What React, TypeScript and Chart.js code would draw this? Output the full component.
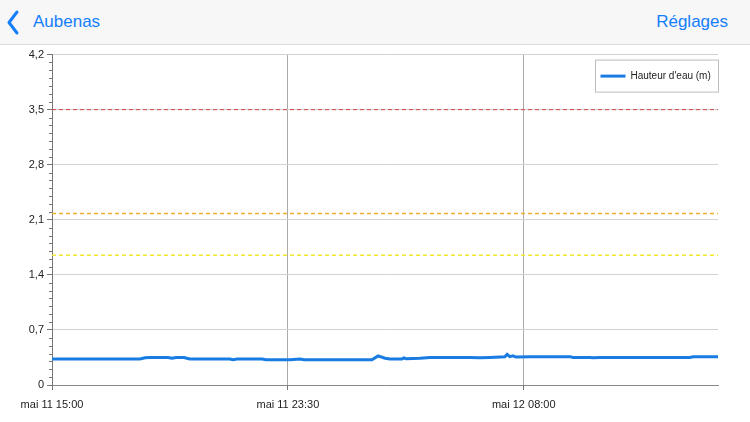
import React, { useEffect, useRef } from "react";
import { Chart, registerables } from "chart.js";

Chart.register(...registerables);

// Hours since "mai 11 15:00"
const hours = [0, 3.17, 3.35, 3.53, 4.18, 4.32, 4.47, 4.76, 4.86, 4.97, 6.41, 6.52, 6.67, 7.57, 7.71, 8.58, 8.94, 9.08, 11.53, 11.75, 12.0, 12.18, 12.61, 12.68, 12.76, 13.26, 13.62, 15.06, 15.42, 15.78, 16.32, 16.4, 16.5, 16.61, 16.72, 17.23, 18.67, 18.77, 19.39, 19.5, 19.75, 22.99, 23.1, 24];
const levels = [0.33, 0.33, 0.345, 0.35, 0.35, 0.34, 0.35, 0.35, 0.34, 0.33, 0.33, 0.32, 0.33, 0.33, 0.32, 0.32, 0.33, 0.32, 0.32, 0.37, 0.34, 0.33, 0.33, 0.345, 0.335, 0.34, 0.35, 0.35, 0.345, 0.35, 0.36, 0.39, 0.36, 0.37, 0.355, 0.36, 0.36, 0.35, 0.35, 0.345, 0.35, 0.35, 0.36, 0.36];

const xTickValues = [0, 8.5, 17];
const xTickLabels = ["mai 11 15:00", "mai 11 23:30", "mai 12 08:00"];
const yTickValues = [0, 0.7, 1.4, 2.1, 2.8, 3.5, 4.2];
const xRange = [0, 24];

const thresholdRed = 3.5;
const thresholdOrange = 2.18;
const thresholdYellow = 1.65;

const seriesLabel = "Hauteur d'eau (m)";
const BLUE = "rgb(24,124,226)";
const FONT = "'Liberation Sans', Arial, sans-serif";

const minorTicksPlugin = {
  id: "minorTicks",
  afterDraw(chart: any) {
    const y = chart.scales.y;
    const ctx = chart.ctx;
    const x0 = chart.chartArea.left;
    ctx.save();
    ctx.strokeStyle = "#777";
    ctx.lineWidth = 1;
    for (let i = 0; i <= 42; i++) {
      const v = i / 10;
      if (i % 7 === 0) continue;
      const py = Math.round(y.getPixelForValue(v)) + 0.5;
      ctx.beginPath();
      ctx.moveTo(x0 - 3, py);
      ctx.lineTo(x0, py);
      ctx.stroke();
    }
    ctx.restore();
  },
};

const legendPlugin = {
  id: "insideLegend",
  afterDraw(chart: any) {
    const ctx = chart.ctx;
    const a = chart.chartArea;
    const w = 123, h = 32;
    const bx = a.right - w + 0.5;
    const by = a.top + 5 + 0.5;
    ctx.save();
    ctx.fillStyle = "#fff";
    ctx.fillRect(bx, by, w, h);
    ctx.strokeStyle = "#bbb";
    ctx.lineWidth = 1;
    ctx.strokeRect(bx, by, w, h);
    const cy = by + h / 2;
    ctx.strokeStyle = BLUE;
    ctx.lineWidth = 3;
    ctx.beginPath();
    ctx.moveTo(bx + 5, cy);
    ctx.lineTo(bx + 30, cy);
    ctx.stroke();
    ctx.fillStyle = "#222";
    ctx.font = "10px " + FONT;
    ctx.textBaseline = "middle";
    ctx.textAlign = "left";
    ctx.fillText(seriesLabel, bx + 35, cy + 0.5);
    ctx.restore();
  },
};

function ChartView() {
  const ref = useRef<HTMLCanvasElement>(null);
  useEffect(() => {
    if (!ref.current) return;
    const line = (v: number) => xRange.map((x) => ({ x, y: v }));
    const chart = new Chart(ref.current, {
      type: "line",
      data: {
        datasets: [
          {
            label: seriesLabel,
            data: hours.map((h, i) => ({ x: h, y: levels[i] })),
            borderColor: BLUE,
            borderWidth: 3,
            pointRadius: 0,
            tension: 0,
            fill: false,
            order: 0,
          },
          {
            label: "red",
            data: line(thresholdRed),
            borderColor: "rgb(205,70,70)",
            borderWidth: 1,
            borderDash: [4, 3],
            pointRadius: 0,
            order: 1,
          },
          {
            label: "orange",
            data: line(thresholdOrange),
            borderColor: "rgb(240,175,50)",
            borderWidth: 1.5,
            borderDash: [4, 3],
            pointRadius: 0,
            order: 1,
          },
          {
            label: "yellow",
            data: line(thresholdYellow),
            borderColor: "rgb(240,232,50)",
            borderWidth: 1.5,
            borderDash: [4, 3],
            pointRadius: 0,
            order: 1,
          },
        ],
      },
      options: {
        animation: false,
        responsive: false,
        maintainAspectRatio: false,
        layout: { padding: { top: 9, right: 32, left: 0, bottom: 0 } },
        plugins: { legend: { display: false }, tooltip: { enabled: false } },
        scales: {
          x: {
            type: "linear",
            min: xRange[0],
            max: xRange[1],
            afterBuildTicks: (s: any) => {
              s.ticks = xTickValues.map((v) => ({ value: v }));
            },
            afterFit: (s: any) => {
              s.height = 37;
            },
            ticks: {
              autoSkip: false,
              maxRotation: 0,
              padding: 8,
              color: "#222",
              font: { family: FONT, size: 11 },
              callback: (v: any) => {
                const i = xTickValues.indexOf(Number(v));
                return i >= 0 ? xTickLabels[i] : "";
              },
            },
            grid: {
              color: (c: any) => (c.tick && c.tick.value === 0 ? "rgba(0,0,0,0)" : "#aaa"),
              tickColor: "#777",
              tickLength: 5,
              lineWidth: 1,
            },
            border: { display: true, color: "#888", width: 1 },
          },
          y: {
            type: "linear",
            min: 0,
            max: 4.2,
            afterBuildTicks: (s: any) => {
              s.ticks = yTickValues.map((v) => ({ value: v }));
            },
            afterFit: (s: any) => {
              s.width = 52;
            },
            ticks: {
              padding: 3,
              color: "#222",
              font: { family: FONT, size: 11 },
              callback: (v: any) => (Number(v) === 0 ? "0" : Number(v).toFixed(1).replace(".", ",")),
            },
            grid: {
              color: (c: any) => (c.tick && c.tick.value === 0 ? "rgba(0,0,0,0)" : "#d2d2d2"),
              tickColor: "#777",
              tickLength: 5,
              lineWidth: 1,
            },
            border: { display: true, color: "#777", width: 1 },
          },
        },
      },
      plugins: [minorTicksPlugin, legendPlugin],
    } as any);
    return () => chart.destroy();
  }, []);
  return <canvas ref={ref} width={750} height={377} style={{ display: "block", width: 750, height: 377 }} />;
}

export default function App() {
  useEffect(() => {
    document.body.style.margin = "0";
  }, []);
  return (
    <div style={{ position: "fixed", left: 0, top: 0, width: 750, height: 422, background: "#fff", overflow: "hidden", fontFamily: FONT }}>
      <div
        style={{
          position: "absolute",
          left: 0,
          top: 0,
          width: 750,
          height: 44,
          background: "#f7f7f7",
          borderBottom: "1px solid #dcdcdc",
        }}
      >
        <svg width="24" height="44" style={{ position: "absolute", left: 4, top: 0 }}>
          <polyline points="13,12 5,22.5 13,33" fill="none" stroke="rgb(20,126,251)" strokeWidth="3" strokeLinecap="round" strokeLinejoin="round" />
        </svg>
        <div style={{ position: "absolute", left: 33, top: 12, fontSize: 17, color: "rgb(20,126,251)", lineHeight: "20px" }}>Aubenas</div>
        <div style={{ position: "absolute", right: 22, top: 12, fontSize: 17, color: "rgb(20,126,251)", lineHeight: "20px" }}>Réglages</div>
      </div>
      <div style={{ position: "absolute", left: 0, top: 45 }}>
        <ChartView />
      </div>
    </div>
  );
}
